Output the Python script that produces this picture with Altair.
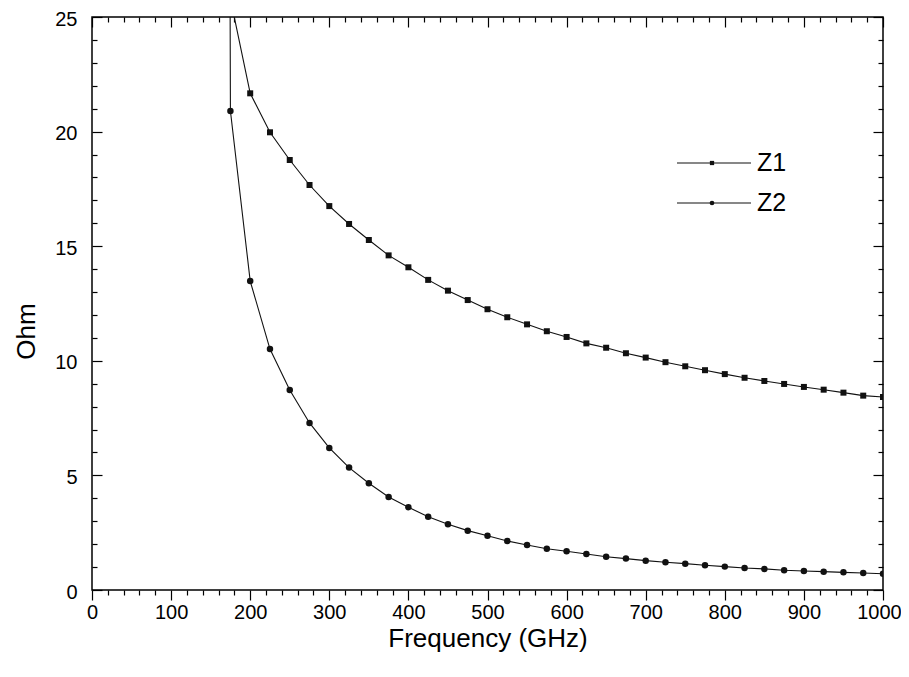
import altair as alt
import pandas as pd

# ---------------- data ----------------
freq = [150, 175, 200, 225, 250, 275, 300, 325, 350, 375, 400, 425, 450, 475,
        500, 525, 550, 575, 600, 625, 650, 675, 700, 725, 750, 775, 800, 825,
        850, 875, 900, 925, 950, 975, 1000]
z1 = [300.0, 25.8, 21.67, 19.97, 18.76, 17.67, 16.75, 15.97, 15.27, 14.60,
      14.08, 13.53, 13.06, 12.65, 12.25, 11.90, 11.59, 11.29, 11.04, 10.76,
      10.57, 10.33, 10.14, 9.94, 9.76, 9.59, 9.42, 9.26, 9.12, 8.99, 8.86,
      8.74, 8.61, 8.48, 8.42]
z2 = [300.0, 20.90, 13.48, 10.51, 8.73, 7.29, 6.20, 5.34, 4.66, 4.06, 3.61,
      3.20, 2.87, 2.59, 2.37, 2.14, 1.96, 1.80, 1.69, 1.57, 1.45, 1.37, 1.28,
      1.21, 1.15, 1.08, 1.02, 0.96, 0.92, 0.86, 0.83, 0.80, 0.77, 0.74, 0.71]
series_names = ["Z1", "Z2"]

x_ticks = list(range(0, 1001, 20))
y_ticks = list(range(0, 26, 1))
y_labels = [0, 5, 10, 15, 20, 25]

x_title = "Frequency (GHz)"
y_title = "Ohm"

# ---------------- layout ----------------
W, H = 791, 573
FONT = "Liberation Sans"
INK = "#111111"

df = pd.DataFrame({
    "freq": freq + freq,
    "ohm": z1 + z2,
    "series": [series_names[0]] * len(freq) + [series_names[1]] * len(freq),
})

xs = alt.Scale(domain=[0, 1000], nice=False, zero=False)
ys = alt.Scale(domain=[0, 25], nice=False, zero=False)

tick_x = {"condition": {"test": "datum.value % 100 === 0", "value": 10}, "value": 5}
tick_y = {"condition": {"test": "datum.value % 5 === 0", "value": 10}, "value": 5}

common_ticks = dict(domain=False, grid=False, tickColor="black", tickWidth=1.2,
                    title=None)

# bottom axis: outward ticks + labels
x_main = alt.Axis(orient="bottom", values=x_ticks, tickSize=tick_x, format="d",
                  labelExpr="datum.value % 100 === 0 ? datum.label : ''",
                  labelOffset={"condition": {"test": "datum.value === 1000", "value": -4},
                               "value": 0},
                  labelFlush=False, labelOverlap=False, labelPadding=2,
                  labelFontSize=20, labelFont=FONT, labelColor="black",
                  domain=False, grid=False, tickColor="black", tickWidth=1.2,
                  title=x_title, titleFont=FONT, titleFontSize=26,
                  titleFontWeight="normal", titleColor="black", titlePadding=3)
# ticks hanging from the top frame
x_top = alt.Axis(orient="bottom", offset=-H, values=x_ticks, tickSize=tick_x,
                 labels=False, **common_ticks)
# left labels only
y_main = alt.Axis(orient="left", values=y_labels, ticks=False, tickSize=0,
                  labelPadding=15, labelFlush=False, labelOverlap=False,
                  labelOffset=2,
                  labelFontSize=20, labelFont=FONT, labelColor="black",
                  domain=False, grid=False,
                  title=y_title, titleFont=FONT, titleFontSize=26,
                  titleFontWeight="normal", titleColor="black",
                  titleX=-66, titleY=314, titleAngle=270, titleAlign="center",
                  titleBaseline="middle")
# inward ticks at the left frame
y_left_in = alt.Axis(orient="right", offset=-W, values=y_ticks, tickSize=tick_y,
                     labels=False, **common_ticks)
# inward ticks at the right frame
y_right_in = alt.Axis(orient="left", offset=-W, values=y_ticks, tickSize=tick_y,
                      labels=False, **common_ticks)

base = alt.Chart(df)

lines = base.mark_line(color=INK, strokeWidth=1.1, clip=True).encode(
    x=alt.X("freq:Q", scale=xs, axis=x_main),
    y=alt.Y("ohm:Q", scale=ys, axis=y_main),
    detail="series:N",
    order="freq:Q",
)

pts1 = base.transform_filter(alt.datum.series == series_names[0]).mark_point(
    shape="square", filled=True, size=36, color=INK, opacity=1, clip=True
).encode(
    x=alt.X("freq:Q", scale=xs, axis=x_top),
    y=alt.Y("ohm:Q", scale=ys, axis=y_left_in),
)

pts2 = base.transform_filter(alt.datum.series == series_names[1]).mark_point(
    shape="circle", filled=True, size=42, color=INK, opacity=1, clip=True
).encode(
    x=alt.X("freq:Q", scale=xs, axis=None),
    y=alt.Y("ohm:Q", scale=ys, axis=y_right_in),
)

# ---------------- manual legend ----------------
def legend_item(name, shape, size, ypix):
    d = pd.DataFrame({"series": [name]})
    c = alt.Chart(d)
    rule = c.mark_rule(color=INK, strokeWidth=1.1).encode(
        x=alt.value(585), x2=alt.value(659), y=alt.value(ypix))
    mark = c.mark_point(shape=shape, filled=True, size=size, color=INK,
                        opacity=1).encode(x=alt.value(620), y=alt.value(ypix))
    txt = c.mark_text(align="left", baseline="middle", fontSize=25, font=FONT,
                      color="black").encode(x=alt.value(665), y=alt.value(ypix),
                                            text="series:N")
    return [rule, mark, txt]

legend_layers = legend_item(series_names[0], "square", 18, 146) + \
    legend_item(series_names[1], "circle", 22, 186)

chart = alt.layer(lines, pts1, pts2, *legend_layers).resolve_axis(
    x="independent", y="independent"
).properties(
    width=W, height=H,
    padding={"left": 84, "top": 9, "right": 18, "bottom": 70},
    autosize=alt.AutoSizeParams(type="none"),
    background="white",
).configure_view(stroke="black", strokeWidth=1.5)

chart.save("out.html", embed_options={"renderer": "svg", "actions": False})
